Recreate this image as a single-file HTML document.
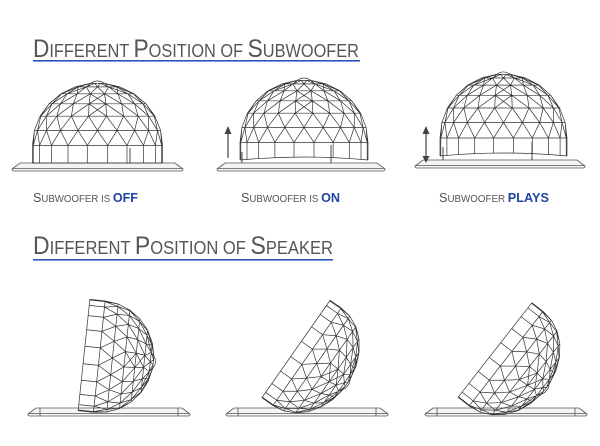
<!DOCTYPE html>
<html><head><meta charset="utf-8"><style>
html,body{margin:0;padding:0;background:#fff;}
svg{display:block;}
</style></head><body>
<svg id="s" width="600" height="446" viewBox="0 0 600 446" xmlns="http://www.w3.org/2000/svg" font-family="Liberation Sans, sans-serif">
<g fill="#555">
<text x="33" y="57" textLength="326" lengthAdjust="spacingAndGlyphs"><tspan font-size="25">D</tspan><tspan font-size="18">IFFERENT </tspan><tspan font-size="25">P</tspan><tspan font-size="18">OSITION OF </tspan><tspan font-size="25">S</tspan><tspan font-size="18">UBWOOFER</tspan></text>
<text x="33" y="254" textLength="300" lengthAdjust="spacingAndGlyphs"><tspan font-size="25">D</tspan><tspan font-size="18">IFFERENT </tspan><tspan font-size="25">P</tspan><tspan font-size="18">OSITION OF </tspan><tspan font-size="25">S</tspan><tspan font-size="18">PEAKER</tspan></text>
<text x="33" y="202" textLength="105" lengthAdjust="spacingAndGlyphs"><tspan font-size="13">S</tspan><tspan font-size="10">UBWOOFER IS </tspan><tspan font-size="13" font-weight="bold" fill="#1f45a0">OFF</tspan></text>
<text x="241" y="202" textLength="99" lengthAdjust="spacingAndGlyphs"><tspan font-size="13">S</tspan><tspan font-size="10">UBWOOFER IS </tspan><tspan font-size="13" font-weight="bold" fill="#1f45a0">ON</tspan></text>
<text x="439" y="202" textLength="110" lengthAdjust="spacingAndGlyphs"><tspan font-size="13">S</tspan><tspan font-size="10">UBWOOFER </tspan><tspan font-size="13" font-weight="bold" fill="#1f45a0">PLAYS</tspan></text>
</g>
<rect x="33" y="60" width="327" height="1.6" fill="#2a55b8"/>
<rect x="33" y="259" width="300" height="1.6" fill="#2a55b8"/>
<g id="art" fill="none" stroke="#333" stroke-width="0.7"></g>
</svg>
<script>
var art=document.getElementById('art');
function P(d,extra){var e=document.createElementNS('http://www.w3.org/2000/svg','path');e.setAttribute('d',d);if(extra)for(var k in extra)e.setAttribute(k,extra[k]);return e;}
function f1(v){return v.toFixed(1);}
function dome(W,H,sag){
  var R=W/2,band=0.22*H,cap=H-band;
  var rings=[{y:0,r:R},{y:-band,r:R}];
  var N=6;
  for(var k=1;k<=N;k++){var f=k/N*Math.PI/2*0.93;rings.push({y:-(band+cap*Math.sin(f)),r:R*Math.cos(f)});}
  var counts=[10,10,10,10,9,8,6,4];
  function pts(i){var n=counts[i],ring=rings[i],a=[];var off=(i%2)?0.5:0;
    var list=[0];for(var j=0;j<=n;j++){var t=(j+off)/n;if(t>0&&t<1)list.push(t);}list.push(1);
    for(var j=0;j<list.length;j++){var lon=-Math.PI/2+Math.PI*list[j];a.push([ring.r*Math.sin(lon),ring.y,list[j]]);}
    return a;}
  var d='';
  var left=[],right=[];
  for(var i=0;i<rings.length;i++){left.push([-rings[i].r,rings[i].y]);right.push([rings[i].r,rings[i].y]);}
  d+='M'+left.map(function(p){return f1(p[0])+','+f1(p[1])}).join('L');
  var top=rings[rings.length-1];
  d+='Q0,'+f1(top.y-0.06*H)+' '+f1(top.r)+','+f1(top.y);
  d+='L'+right.reverse().map(function(p){return f1(p[0])+','+f1(p[1])}).join('L');
  for(var i=0;i<rings.length;i++){var r=rings[i];
    if(i==0&&sag){d+='M'+(-r.r)+',0Q0,'+(-sag*2)+' '+r.r+',0';}
    else d+='M'+f1(-r.r)+','+f1(r.y)+'H'+f1(r.r);}
  var p1=pts(1);
  for(var j=1;j<p1.length-1;j++){d+='M'+f1(p1[j][0])+','+f1(p1[j][1])+'V'+(sag?f1(-sag*(1-Math.pow(p1[j][0]/R,2))):0);}
  for(var i=1;i<rings.length-1;i++){var a=pts(i),b=pts(i+1);
    for(var j=1;j<a.length-1;j++){
      var t=a[j][2];var best=[];for(var m=0;m<b.length;m++)best.push([Math.abs(b[m][2]-t),m]);
      best.sort(function(u,v){return u[0]-v[0]});
      for(var q=0;q<2;q++){var bb=b[best[q][1]];d+='M'+f1(a[j][0])+','+f1(a[j][1])+'L'+f1(bb[0])+','+f1(bb[1]);}
    }}
  return d;
}
function place(d,tx,ty,rot){var g=document.createElementNS('http://www.w3.org/2000/svg','g');g.setAttribute('transform','translate('+tx+','+ty+') rotate('+rot+')');g.appendChild(P(d));art.appendChild(g);}
function platform(x,y,w,h,inner){
  var d='M'+(x+8)+','+y+'H'+(x+w-8)+'L'+(x+w)+','+(y+h-2)+'Q'+(x+w)+','+(y+h)+' '+(x+w-2)+','+(y+h)+'H'+(x+2)+'Q'+x+','+(y+h)+' '+x+','+(y+h-2)+'Z';
  d+='M'+(x+1)+','+(y+h-2.5)+'H'+(x+w-1);
  if(inner){d+='M'+(x+12)+','+y+'V'+(y+h)+'M'+(x+w-12)+','+y+'V'+(y+h);}
  art.appendChild(P(d,{stroke:'#555','stroke-width':'0.8',fill:'#f4f4f4'}));
}
platform(12,163,171,8,false);
platform(217,163,168,8,false);
platform(415,160,170,8,false);
platform(28,408,162,8,true);
platform(226,408,162,8,true);
platform(425,408,162,8,true);
place(dome(130,80,0),97.5,163,0);
place(dome(128,80,3),304,160,0);
place(dome(127,82,3),503.5,156,0);
art.appendChild(P('M130,148V163M331,145V163M242,152V163M532,142V160M443,147V160',{'stroke-width':'0.9'}));
art.appendChild(P('M228,158V132M426,132V158',{stroke:'#444','stroke-width':'1.2'}));
art.appendChild(P('M224.5,134L228,126L231.5,134ZM422.5,134L426,126L429.5,134ZM422.5,156L426,163L429.5,156Z',{fill:'#444',stroke:'none'}));
place(dome(112,70,0),84,355,96);
place(dome(119,62,0),296,349,125);
place(dome(120,64,0),495,350,128);
</script>
</body></html>
